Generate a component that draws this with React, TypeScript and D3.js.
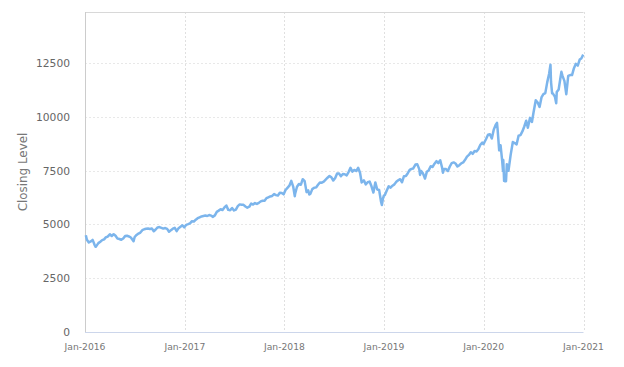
import React, { useEffect, useRef } from 'react'
import * as d3 from 'd3'

// NASDAQ-100 closing level, roughly weekly
const closes2016: [string, number][] = [
  ['2016-01-04', 4497], ['2016-01-08', 4283], ['2016-01-15', 4159], ['2016-01-22', 4210],
  ['2016-01-29', 4279], ['2016-02-05', 4052], ['2016-02-09', 3960], ['2016-02-12', 4001],
  ['2016-02-19', 4130], ['2016-02-26', 4195], ['2016-03-04', 4270], ['2016-03-11', 4306],
  ['2016-03-18', 4410], ['2016-03-24', 4428], ['2016-04-01', 4540], ['2016-04-08', 4460],
  ['2016-04-15', 4545], ['2016-04-22', 4475], ['2016-04-29', 4341], ['2016-05-06', 4320],
  ['2016-05-13', 4285], ['2016-05-20', 4345], ['2016-05-27', 4456], ['2016-06-03', 4470],
  ['2016-06-10', 4440], ['2016-06-17', 4392], ['2016-06-27', 4220], ['2016-07-01', 4415],
  ['2016-07-08', 4509], ['2016-07-15', 4574], ['2016-07-22', 4620], ['2016-07-29', 4730],
  ['2016-08-05', 4775], ['2016-08-12', 4798], ['2016-08-19', 4807], ['2016-08-26', 4785],
  ['2016-09-02', 4810], ['2016-09-09', 4683], ['2016-09-16', 4763], ['2016-09-23', 4858],
  ['2016-09-30', 4875], ['2016-10-07', 4840], ['2016-10-14', 4805], ['2016-10-21', 4830],
  ['2016-10-28', 4790], ['2016-11-04', 4660], ['2016-11-11', 4733], ['2016-11-18', 4800],
  ['2016-11-25', 4840], ['2016-12-02', 4690], ['2016-12-09', 4825], ['2016-12-16', 4890],
  ['2016-12-23', 4958], ['2016-12-30', 4863],
]

const closes2017: [string, number][] = [
  ['2017-01-06', 4980], ['2017-01-13', 5010], ['2017-01-20', 5050], ['2017-01-27', 5150],
  ['2017-02-03', 5130], ['2017-02-10', 5220], ['2017-02-17', 5290], ['2017-02-24', 5330],
  ['2017-03-03', 5370], ['2017-03-10', 5390], ['2017-03-17', 5410], ['2017-03-24', 5390],
  ['2017-03-31', 5436], ['2017-04-07', 5410], ['2017-04-13', 5350], ['2017-04-21', 5420],
  ['2017-04-28', 5583], ['2017-05-05', 5640], ['2017-05-12', 5705], ['2017-05-19', 5670],
  ['2017-05-26', 5788], ['2017-06-02', 5878], ['2017-06-09', 5675], ['2017-06-16', 5660],
  ['2017-06-23', 5760], ['2017-06-30', 5647], ['2017-07-07', 5690], ['2017-07-14', 5850],
  ['2017-07-21', 5930], ['2017-07-28', 5910], ['2017-08-04', 5910], ['2017-08-11', 5830],
  ['2017-08-18', 5775], ['2017-08-25', 5820], ['2017-09-01', 5970], ['2017-09-08', 5920],
  ['2017-09-15', 5990], ['2017-09-22', 5950], ['2017-09-29', 6000], ['2017-10-06', 6070],
  ['2017-10-13', 6100], ['2017-10-20', 6100], ['2017-10-27', 6220], ['2017-11-03', 6260],
  ['2017-11-10', 6300], ['2017-11-17', 6320], ['2017-11-24', 6410], ['2017-12-01', 6360],
  ['2017-12-08', 6340], ['2017-12-15', 6470], ['2017-12-22', 6460], ['2017-12-29', 6397],
]

const closes2018: [string, number][] = [
  ['2018-01-05', 6600], ['2018-01-12', 6700], ['2018-01-19', 6800], ['2018-01-26', 7023],
  ['2018-02-02', 6760], ['2018-02-08', 6310], ['2018-02-09', 6420], ['2018-02-16', 6750],
  ['2018-02-23', 6880], ['2018-03-02', 6840], ['2018-03-09', 7100], ['2018-03-16', 7010],
  ['2018-03-23', 6500], ['2018-03-29', 6580], ['2018-04-02', 6390], ['2018-04-06', 6420],
  ['2018-04-13', 6640], ['2018-04-20', 6700], ['2018-04-27', 6720], ['2018-05-04', 6840],
  ['2018-05-11', 6950], ['2018-05-18', 6940], ['2018-05-25', 6990], ['2018-06-01', 7080],
  ['2018-06-08', 7170], ['2018-06-15', 7250], ['2018-06-22', 7190], ['2018-06-29', 7040],
  ['2018-07-06', 7160], ['2018-07-13', 7370], ['2018-07-20', 7360], ['2018-07-27', 7240],
  ['2018-08-03', 7340], ['2018-08-10', 7330], ['2018-08-17', 7280], ['2018-08-24', 7430],
  ['2018-08-31', 7630], ['2018-09-07', 7450], ['2018-09-14', 7530], ['2018-09-21', 7480],
  ['2018-09-28', 7630], ['2018-10-05', 7400], ['2018-10-11', 6950], ['2018-10-19', 7050],
  ['2018-10-26', 6860], ['2018-11-02', 6960], ['2018-11-09', 6990], ['2018-11-16', 6770],
  ['2018-11-23', 6480], ['2018-11-30', 6950], ['2018-12-07', 6620], ['2018-12-14', 6600],
  ['2018-12-21', 6050], ['2018-12-24', 5899], ['2018-12-28', 6200], ['2018-12-31', 6330],
]

const closes2019: [string, number][] = [
  ['2019-01-04', 6370], ['2019-01-11', 6570], ['2019-01-18', 6770], ['2019-01-25', 6710],
  ['2019-02-01', 6800], ['2019-02-08', 6860], ['2019-02-15', 6980], ['2019-02-22', 7050],
  ['2019-03-01', 7100], ['2019-03-08', 6960], ['2019-03-15', 7240], ['2019-03-22', 7250],
  ['2019-03-29', 7380], ['2019-04-05', 7530], ['2019-04-12', 7580], ['2019-04-18', 7600],
  ['2019-04-26', 7780], ['2019-05-03', 7790], ['2019-05-10', 7570], ['2019-05-13', 7300],
  ['2019-05-17', 7480], ['2019-05-24', 7360], ['2019-05-31', 7130], ['2019-06-07', 7450],
  ['2019-06-14', 7520], ['2019-06-21', 7700], ['2019-06-28', 7670], ['2019-07-05', 7820],
  ['2019-07-12', 7940], ['2019-07-19', 7850], ['2019-07-26', 7980], ['2019-08-02', 7620],
  ['2019-08-05', 7400], ['2019-08-09', 7580], ['2019-08-16', 7570], ['2019-08-23', 7480],
  ['2019-08-30', 7690], ['2019-09-06', 7850], ['2019-09-13', 7880], ['2019-09-20', 7830],
  ['2019-09-27', 7690], ['2019-10-04', 7750], ['2019-10-11', 7840], ['2019-10-18', 7880],
  ['2019-10-25', 8000], ['2019-11-01', 8150], ['2019-11-08', 8230], ['2019-11-15', 8350],
  ['2019-11-22', 8280], ['2019-11-29', 8410], ['2019-12-06', 8390], ['2019-12-13', 8500],
  ['2019-12-20', 8700], ['2019-12-27', 8800], ['2019-12-31', 8733],
]

const closes2020: [string, number][] = [
  ['2020-01-03', 8793], ['2020-01-10', 8970], ['2020-01-17', 9170], ['2020-01-24', 9190],
  ['2020-01-31', 8990], ['2020-02-07', 9400], ['2020-02-14', 9620], ['2020-02-19', 9718],
  ['2020-02-21', 9450], ['2020-02-27', 8440], ['2020-03-03', 8680], ['2020-03-09', 7950],
  ['2020-03-12', 7480], ['2020-03-13', 7990], ['2020-03-16', 7020], ['2020-03-20', 7000],
  ['2020-03-23', 7006], ['2020-03-26', 7800], ['2020-04-01', 7490], ['2020-04-09', 8230],
  ['2020-04-17', 8830], ['2020-04-24', 8780], ['2020-05-01', 8720], ['2020-05-08', 9120],
  ['2020-05-15', 9150], ['2020-05-22', 9320], ['2020-05-29', 9550], ['2020-06-05', 9820],
  ['2020-06-11', 9490], ['2020-06-19', 9950], ['2020-06-26', 9760], ['2020-07-02', 10210],
  ['2020-07-10', 10770], ['2020-07-17', 10660], ['2020-07-24', 10460], ['2020-07-31', 10900],
  ['2020-08-07', 11050], ['2020-08-14', 11100], ['2020-08-21', 11600], ['2020-08-28', 12000],
  ['2020-09-02', 12420], ['2020-09-04', 11620], ['2020-09-08', 11090], ['2020-09-11', 11080],
  ['2020-09-18', 10940], ['2020-09-23', 10630], ['2020-09-25', 11150], ['2020-10-02', 11270],
  ['2020-10-09', 11850], ['2020-10-12', 12090], ['2020-10-16', 11900], ['2020-10-23', 11670],
  ['2020-10-30', 11050], ['2020-11-06', 11900], ['2020-11-13', 11940], ['2020-11-20', 11940],
  ['2020-11-27', 12260], ['2020-12-04', 12460], ['2020-12-11', 12380], ['2020-12-18', 12660],
  ['2020-12-24', 12710], ['2020-12-31', 12888],
]

const yTicks = [0, 2500, 5000, 7500, 10000, 12500]
const xTickYears = [2016, 2017, 2018, 2019, 2020, 2021]

const W = 624
const H = 367
const margin = { top: 12, right: 40.5, bottom: 35, left: 85 }

export default function App() {
  const svgRef = useRef<SVGSVGElement>(null)

  useEffect(() => {
    if (!svgRef.current) return
    const svg = d3.select(svgRef.current)
    svg.selectAll('*').remove()

    const parse = d3.timeParse('%Y-%m-%d')
    const data = [...closes2016, ...closes2017, ...closes2018, ...closes2019, ...closes2020]
      .map(([d, v]) => ({ date: parse(d) as Date, value: v }))

    const x = d3.scaleTime()
      .domain([new Date(2016, 0, 1), new Date(2021, 0, 1)])
      .range([margin.left, W - margin.right])
    const y = d3.scaleLinear()
      .domain([0, 14870])
      .range([H - margin.bottom, margin.top])

    const x0 = margin.left
    const x1 = W - margin.right
    const y0 = H - margin.bottom
    const y1 = margin.top

    // horizontal grid
    svg.append('g')
      .selectAll('line')
      .data(yTicks.filter(t => t > 0))
      .enter()
      .append('line')
      .attr('x1', x0).attr('x2', x1)
      .attr('y1', d => Math.round(y(d)) + 0.5).attr('y2', d => Math.round(y(d)) + 0.5)
      .attr('stroke', '#e8e8e8')
      .attr('stroke-dasharray', '2,2')

    // vertical grid
    svg.append('g')
      .selectAll('line')
      .data(xTickYears.slice(1))
      .enter()
      .append('line')
      .attr('x1', d => Math.round(x(new Date(d, 0, 1))) + 0.5)
      .attr('x2', d => Math.round(x(new Date(d, 0, 1))) + 0.5)
      .attr('y1', y1).attr('y2', y0)
      .attr('stroke', '#e0e0e0')
      .attr('stroke-dasharray', '2,2')

    // top border and left axis
    svg.append('line')
      .attr('x1', x0).attr('x2', x1).attr('y1', y1 + 0.5).attr('y2', y1 + 0.5)
      .attr('stroke', '#d8d8d8')
    svg.append('line')
      .attr('x1', x0 + 0.5).attr('x2', x0 + 0.5).attr('y1', y1).attr('y2', y0)
      .attr('stroke', '#cccccc')

    // bottom axis
    svg.append('line')
      .attr('x1', x0).attr('x2', x1).attr('y1', y0 + 0.5).attr('y2', y0 + 0.5)
      .attr('stroke', '#ccd6eb')

    // the line
    const line = d3.line<{ date: Date; value: number }>()
      .x(d => x(d.date))
      .y(d => y(d.value))
      .curve(d3.curveLinear)

    svg.append('path')
      .datum(data)
      .attr('d', line)
      .attr('fill', 'none')
      .attr('stroke', '#7cb5ec')
      .attr('stroke-width', 2.5)
      .attr('stroke-linejoin', 'round')

    // y tick labels
    svg.append('g')
      .selectAll('text')
      .data(yTicks)
      .enter()
      .append('text')
      .attr('x', 70)
      .attr('y', d => y(d) + 4)
      .attr('text-anchor', 'end')
      .attr('fill', '#666')
      .style('font-family', 'DejaVu Sans, sans-serif')
      .style('font-size', '10.7px')
      .text(d => String(d))

    // x tick labels
    const fmt = d3.timeFormat('%b-%Y')
    svg.append('g')
      .selectAll('text')
      .data(xTickYears)
      .enter()
      .append('text')
      .attr('x', d => x(new Date(d, 0, 1)))
      .attr('y', 350)
      .attr('text-anchor', 'middle')
      .attr('fill', '#777')
      .style('font-family', 'DejaVu Sans, sans-serif')
      .style('font-size', '9.2px')
      .text(d => fmt(new Date(d, 0, 1)))

    // y axis title
    svg.append('text')
      .attr('transform', `translate(27,${(y0 + y1) / 2}) rotate(-90)`)
      .attr('text-anchor', 'middle')
      .attr('fill', '#777')
      .style('font-family', 'DejaVu Sans, sans-serif')
      .style('font-size', '11.9px')
      .text('Closing Level')
  }, [])

  return (
    <div style={{ position: 'absolute', left: 0, top: 0 }}>
      <svg ref={svgRef} width={W} height={H} style={{ display: 'block', background: '#fff' }} />
    </div>
  )
}
